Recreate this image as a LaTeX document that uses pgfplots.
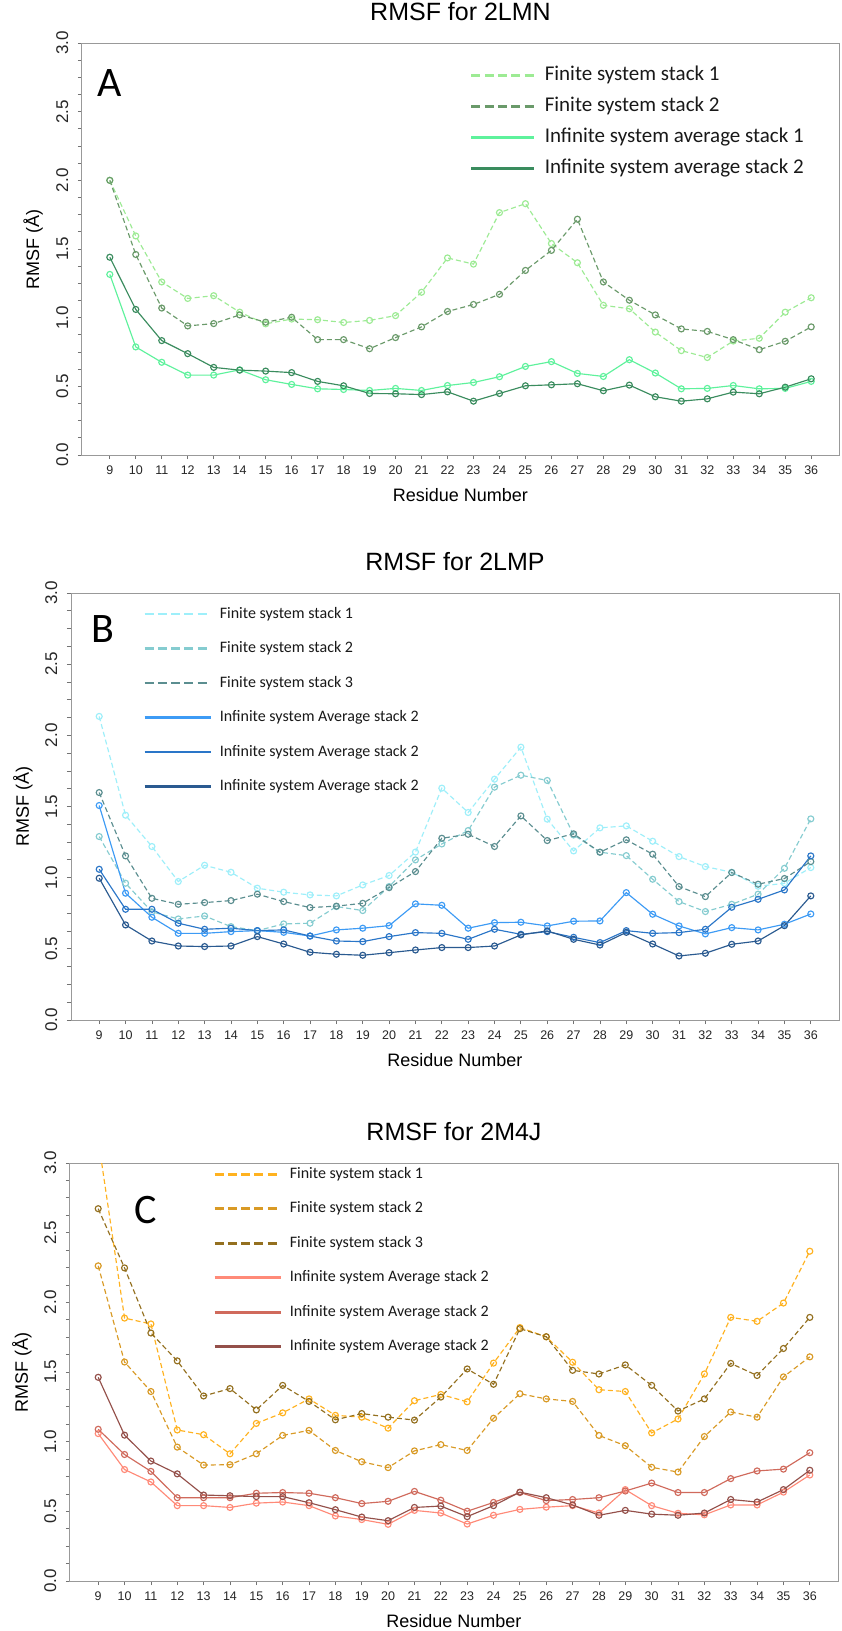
\documentclass[border=0pt]{standalone}
\usepackage{pgfplots}
\pgfplotsset{compat=1.18}
\usepackage{pgfplotstable}
\usepackage{fontspec}
\setmainfont{Liberation Sans}
\newfontfamily\carlito{Carlito}

% Panel A colours
\definecolor{aF1}{HTML}{9DEB94}
\definecolor{aF2}{HTML}{6A9A6A}
\definecolor{aI1}{HTML}{5EF29C}
\definecolor{aI2}{HTML}{3A8C5E}
% Panel B colours
\definecolor{bF1}{HTML}{9EEFFA}
\definecolor{bF2}{HTML}{85CCD0}
\definecolor{bF3}{HTML}{5B8E90}
\definecolor{bI1}{HTML}{3D9BF5}
\definecolor{bI2}{HTML}{2A76C8}
\definecolor{bI3}{HTML}{2A5A90}
% Panel C colours
\definecolor{cF1}{HTML}{FFB21F}
\definecolor{cF2}{HTML}{D99A25}
\definecolor{cF3}{HTML}{94701F}
\definecolor{cI1}{HTML}{FF8A78}
\definecolor{cI2}{HTML}{D06A5C}
\definecolor{cI3}{HTML}{94504A}

\pgfplotstableread{
res f1 f2 i1 i2
9 2.00 2.00 1.315 1.44
10 1.595 1.46 0.787 1.06
11 1.26 1.07 0.675 0.833
12 1.14 0.94 0.582 0.738
13 1.16 0.957 0.582 0.638
14 1.04 1.02 0.62 0.618
15 0.955 0.967 0.548 0.611
16 0.99 1.003 0.514 0.60
17 0.985 0.84 0.482 0.536
18 0.965 0.84 0.477 0.504
19 0.98 0.774 0.47 0.448
20 1.015 0.855 0.485 0.446
21 1.185 0.933 0.47 0.44
22 1.435 1.045 0.506 0.46
23 1.39 1.096 0.528 0.392
24 1.765 1.17 0.57 0.448
25 1.83 1.344 0.645 0.504
26 1.54 1.49 0.68 0.511
27 1.40 1.717 0.594 0.519
28 1.09 1.26 0.572 0.468
29 1.065 1.127 0.694 0.509
30 0.895 1.02 0.597 0.424
31 0.76 0.918 0.482 0.392
32 0.71 0.90 0.485 0.409
33 0.83 0.84 0.506 0.458
34 0.85 0.767 0.482 0.446
35 1.04 0.828 0.485 0.494
36 1.145 0.933 0.536 0.555
}\dataA

\pgfplotstableread{
res f1 f2 f3 i1 i2 i3
9 2.133 1.289 1.598 1.507 1.059 0.996
10 1.439 0.961 1.153 0.891 0.778 0.668
11 1.219 0.76 0.855 0.722 0.778 0.555
12 0.973 0.71 0.813 0.609 0.68 0.52
13 1.087 0.731 0.825 0.609 0.6375 0.516
14 1.038 0.656 0.839 0.621 0.645 0.52
15 0.926 0.628 0.884 0.628 0.628 0.586
16 0.898 0.675 0.832 0.616 0.633 0.534
17 0.879 0.68 0.79 0.59 0.59 0.476
18 0.872 0.797 0.80 0.633 0.555 0.462
19 0.949 0.769 0.82 0.645 0.551 0.455
20 1.015 0.9375 0.93 0.663 0.586 0.473
21 1.18 1.125 1.043 0.816 0.614 0.492
22 1.629 1.237 1.277 0.806 0.609 0.509
23 1.458 1.331 1.305 0.645 0.567 0.509
24 1.692 1.636 1.219 0.684 0.6375 0.52
25 1.917 1.72 1.434 0.687 0.602 0.598
26 1.411 1.683 1.261 0.661 0.621 0.626
27 1.188 1.30 1.308 0.694 0.581 0.567
28 1.35 1.179 1.179 0.696 0.544 0.527
29 1.364 1.155 1.266 0.895 0.628 0.616
30 1.256 0.989 1.165 0.743 0.609 0.534
31 1.148 0.832 0.9375 0.661 0.614 0.45
32 1.078 0.762 0.867 0.605 0.6375 0.469
33 1.038 0.813 1.036 0.649 0.792 0.532
34 0.94 0.884 0.954 0.633 0.848 0.555
35 0.96 1.066 0.994 0.673 0.914 0.663
36 1.071 1.413 1.113 0.745 1.153 0.872
}\dataB

\pgfplotstableread{
res f1 f2 f3 i1 i2 i3
9 3.17 2.262 2.672 1.058 1.089 1.462
10 1.887 1.572 2.247 0.80 0.908 1.047
11 1.845 1.36 1.78 0.711 0.787 0.861
12 1.084 0.961 1.58 0.541 0.598 0.769
13 1.05 0.832 1.328 0.541 0.598 0.617
14 0.913 0.835 1.381 0.528 0.598 0.612
15 1.131 0.913 1.228 0.559 0.63 0.606
16 1.207 1.045 1.404 0.567 0.635 0.606
17 1.307 1.081 1.289 0.541 0.63 0.562
18 1.189 0.937 1.157 0.467 0.598 0.512
19 1.176 0.856 1.202 0.441 0.556 0.459
20 1.097 0.814 1.176 0.407 0.572 0.433
21 1.294 0.934 1.155 0.507 0.643 0.528
22 1.339 0.979 1.32 0.488 0.58 0.538
23 1.286 0.937 1.522 0.409 0.501 0.462
24 1.564 1.168 1.412 0.472 0.564 0.541
25 1.819 1.344 1.811 0.514 0.635 0.638
26 1.753 1.307 1.753 0.53 0.577 0.598
27 1.57 1.289 1.512 0.541 0.585 0.546
28 1.373 1.045 1.486 0.488 0.598 0.472
29 1.36 0.971 1.551 0.656 0.646 0.507
30 1.063 0.816 1.404 0.541 0.703 0.48
31 1.163 0.782 1.22 0.486 0.635 0.472
32 1.486 1.037 1.307 0.475 0.635 0.488
33 1.892 1.213 1.562 0.546 0.735 0.585
34 1.864 1.176 1.475 0.546 0.79 0.567
35 1.995 1.465 1.669 0.638 0.803 0.656
36 2.367 1.609 1.892 0.761 0.921 0.795
}\dataC

\pgfplotsset{
  rmsf/.style={
    scale only axis,
    xmin=7.93, xmax=37.07, ymin=0, ymax=3,
    xtick={9,...,36}, ytick={0,0.5,...,3},
    minor y tick num=3,
    tick align=outside, tick pos=left,
    major tick length=4pt, minor tick length=4pt,
    tick style={black!55, line width=0.8pt},
    axis line style={black!40, line width=1pt},
    /pgf/number format/assume math mode=true,
    y tick label style={/pgf/number format/.cd, fixed, fixed zerofill, precision=1, /tikz/.cd},
    yticklabel style={rotate=90, anchor=south, inner ysep=9.5pt, font=\fontsize{17}{17}\selectfont, text=black!85},
    xticklabel style={inner ysep=7pt, font=\fontsize{12.5}{12.5}\selectfont, text=black!85},
    title style={font=\fontsize{25}{25}\selectfont, at={(axis description cs:0.5,1)}, anchor=base, yshift=16.5pt},
    xlabel={Residue Number}, ylabel={RMSF (Å)},
    xlabel style={font=\fontsize{18}{18}\selectfont, at={(axis description cs:0.5,0)}, anchor=base, yshift=-46pt},
    every axis plot/.append style={line width=1.15pt, mark=o, mark size=3pt, mark options={solid, fill=white}},
    legend cell align=left,
    legend style={draw=none, fill=none, anchor=north west, inner sep=0pt, text=black!90,
      font=\carlito\fontsize{16}{16}\selectfont,
      nodes={inner sep=0pt, text height=12pt, text depth=4pt}, column sep=8pt, row sep=18.5pt},
    legend image code/.code={\draw[#1] (0pt,0pt) -- (66pt,0pt);},
  },
  fdash/.style={dash pattern=on 5pt off 3pt},
  legdash/.style={line width=2.6pt, dash pattern=on 9pt off 4.3pt},
  legsolid/.style={line width=2.6pt, solid},
}

\begin{document}
\begin{tikzpicture}
\path[fill=white, use as bounding box] (0pt,0pt) rectangle (841pt,-1631pt);

% ---------------- Panel A ----------------
\begin{axis}[rmsf, at={(82pt,-43pt)}, anchor=north west, width=757pt, height=412pt,
  title={RMSF for 2LMN},
  ylabel style={font=\fontsize{18}{18}\selectfont, at={(axis description cs:-0.0647,0.5)}, anchor=center},
  legend style={at={(axis description cs:0.5125,0.9478)}, font=\carlito\fontsize{21}{21}\selectfont,
    nodes={inner sep=0pt, text height=16pt, text depth=5pt}, row sep=10pt, column sep=9pt},
  legend image code/.code={\draw[#1] (0pt,0pt) -- (63pt,0pt);},
]
\addlegendimage{aF1, legdash}\addlegendentry{Finite system stack 1}
\addlegendimage{aF2, legdash}\addlegendentry{Finite system stack 2}
\addlegendimage{aI1, legsolid}\addlegendentry{Infinite system average stack 1}
\addlegendimage{aI2, legsolid}\addlegendentry{Infinite system average stack 2}
\addplot[aF1, fdash, forget plot] table[x=res, y=f1] {\dataA};
\addplot[aF2, fdash, forget plot] table[x=res, y=f2] {\dataA};
\addplot[aI1, forget plot] table[x=res, y=i1] {\dataA};
\addplot[aI2, forget plot] table[x=res, y=i2] {\dataA};
\node[font=\carlito\fontsize{42}{42}\selectfont, anchor=base] at (rel axis cs:0.0363,0.869) {A};
\end{axis}

% ---------------- Panel B ----------------
\begin{axis}[rmsf, at={(71pt,-593pt)}, anchor=north west, width=768pt, height=427pt,
  title={RMSF for 2LMP},
  ylabel style={font=\fontsize{18}{18}\selectfont, at={(axis description cs:-0.0625,0.5)}, anchor=center},
  legend style={at={(axis description cs:0.09375,0.9696)}},
]
\addlegendimage{bF1, legdash}\addlegendentry{Finite system stack 1}
\addlegendimage{bF2, legdash}\addlegendentry{Finite system stack 2}
\addlegendimage{bF3, legdash}\addlegendentry{Finite system stack 3}
\addlegendimage{bI1, legsolid}\addlegendentry{Infinite system Average stack 2}
\addlegendimage{bI2, legsolid}\addlegendentry{Infinite system Average stack 2}
\addlegendimage{bI3, legsolid}\addlegendentry{Infinite system Average stack 2}
\addplot[bF1, fdash, forget plot] table[x=res, y=f1] {\dataB};
\addplot[bF2, fdash, forget plot] table[x=res, y=f2] {\dataB};
\addplot[bF3, fdash, forget plot] table[x=res, y=f3] {\dataB};
\addplot[bI1, forget plot] table[x=res, y=i1] {\dataB};
\addplot[bI2, forget plot] table[x=res, y=i2] {\dataB};
\addplot[bI3, forget plot] table[x=res, y=i3] {\dataB};
\node[font=\carlito\fontsize{42}{42}\selectfont, anchor=base] at (rel axis cs:0.0417,0.883) {B};
\end{axis}

% ---------------- Panel C ----------------
\begin{axis}[rmsf, at={(70pt,-1163pt)}, anchor=north west, width=768pt, height=418pt,
  title={RMSF for 2M4J},
  ylabel style={font=\fontsize{18}{18}\selectfont, at={(axis description cs:-0.0625,0.5)}, anchor=center},
  legend style={at={(axis description cs:0.1862,0.9928)}},
]
\addlegendimage{cF1, legdash}\addlegendentry{Finite system stack 1}
\addlegendimage{cF2, legdash}\addlegendentry{Finite system stack 2}
\addlegendimage{cF3, legdash}\addlegendentry{Finite system stack 3}
\addlegendimage{cI1, legsolid}\addlegendentry{Infinite system Average stack 2}
\addlegendimage{cI2, legsolid}\addlegendentry{Infinite system Average stack 2}
\addlegendimage{cI3, legsolid}\addlegendentry{Infinite system Average stack 2}
\addplot[cF1, fdash, forget plot] table[x=res, y=f1] {\dataC};
\addplot[cF2, fdash, forget plot] table[x=res, y=f2] {\dataC};
\addplot[cF3, fdash, forget plot] table[x=res, y=f3] {\dataC};
\addplot[cI1, forget plot] table[x=res, y=i1] {\dataC};
\addplot[cI2, forget plot] table[x=res, y=i2] {\dataC};
\addplot[cI3, forget plot] table[x=res, y=i3] {\dataC};
\node[font=\carlito\fontsize{42}{42}\selectfont, anchor=base] at (rel axis cs:0.099,0.856) {C};
\end{axis}
\end{tikzpicture}
\end{document}
